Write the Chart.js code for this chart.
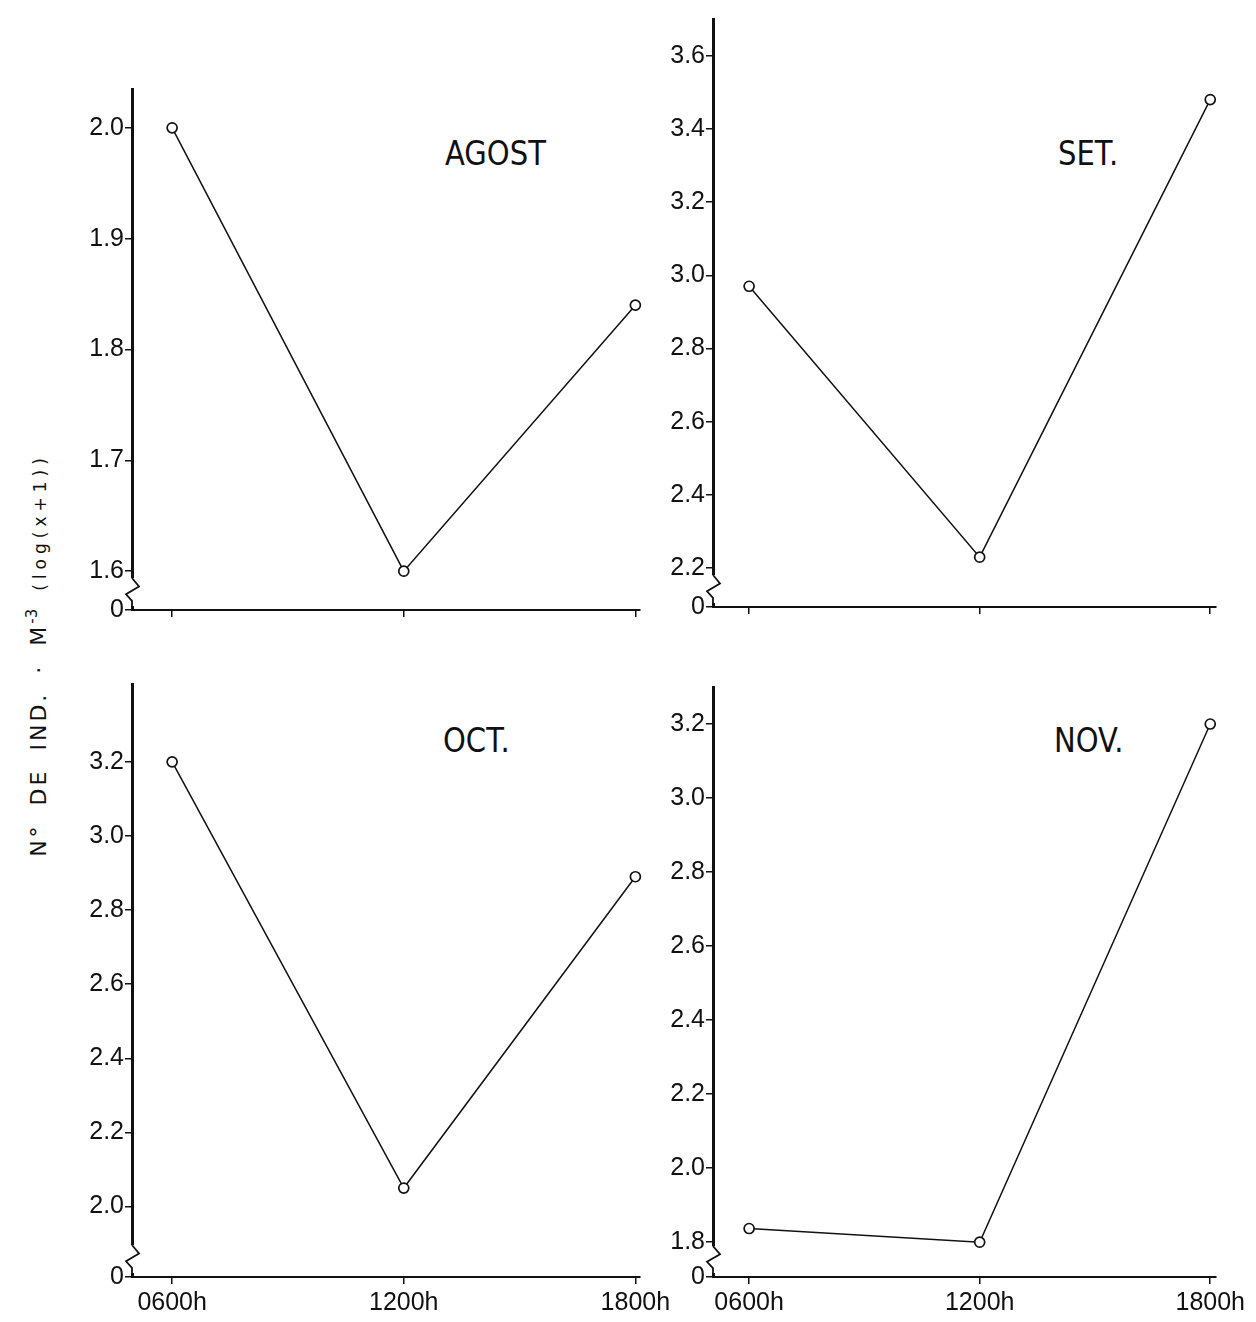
<!DOCTYPE html>
<html>
<head>
<meta charset="utf-8">
<script src="https://cdn.jsdelivr.net/npm/chart.js@4.4.1/dist/chart.umd.min.js"></script>
<style>
    html, body { margin: 0; padding: 0; background: #fff; }
    body { width: 1256px; height: 1322px; position: relative; overflow: hidden; font-family: "DejaVu Sans", sans-serif; color: #111; }
    .panel { position: absolute; }
    .tit { position: absolute; font-size: 33px; color: #111; transform: scaleX(0.88); transform-origin: left top; white-space: nowrap; }
    #ylab { position: absolute; left: 37px; top: 655px; transform: translate(-50%, -50%) rotate(-90deg); white-space: nowrap; font-size: 22px; letter-spacing: 3px; word-spacing: 8px; }
    #ylab sup { font-size: 15px; letter-spacing: 0; }
    #ylab .lg { font-size: 17px; letter-spacing: 5px; word-spacing: 0; }
</style>
</head>
<body>

<div id="ylab">N° DE IND. · M<sup>-3</sup> <span class="lg">(log(x+1))</span></div>

<div class="tit" style="left:445px;top:134px;">AGOST</div>
<div class="tit" style="left:1058px;top:134px;">SET.</div>
<div class="tit" style="left:443px;top:721px;">OCT.</div>
<div class="tit" style="left:1054px;top:721px;">NOV.</div>

<script>
// hora de coleta
var horas = [6, 12, 18];
var horaLabels = {6: '0600h', 12: '1200h', 18: '1800h'};

// log(x+1) por mes
var agost = [2.00, 1.60, 1.84];
var setem = [2.97, 2.23, 3.48];
var octub = [3.20, 2.05, 2.89];
var novem = [1.837, 1.80, 3.20];

// marcas do eixo y
var agostTicks = [1.6, 1.7, 1.8, 1.9, 2.0];
var setemTicks = [2.2, 2.4, 2.6, 2.8, 3.0, 3.2, 3.4, 3.6];
var octubTicks = [2.0, 2.2, 2.4, 2.6, 2.8, 3.0, 3.2];
var novemTicks = [1.8, 2.0, 2.2, 2.4, 2.6, 2.8, 3.0, 3.2];

var PADL = 100, PADT = 12, PADR = 50, PADB = 48;
var FONTE = {family: 'Liberation Sans', size: 25};

// corte do eixo logo acima do zero
var quebraEixo = {
    id: 'quebraEixo',
    afterDraw: function (chart) {
        var y = chart.scales.y, ctx = chart.ctx;
        var first = chart.options.plugins.quebraEixo.first;
        var x0 = y.right;
        var yb = y.getPixelForValue(y.min) - 4;
        var ya = Math.max(y.getPixelForValue(first) + 4, yb - 28);
        var h = yb - ya;
        ctx.save();
        ctx.fillStyle = '#fff';
        ctx.fillRect(x0 - 3, ya, 6, h);
        ctx.strokeStyle = '#111';
        ctx.lineWidth = 1.8;
        ctx.beginPath();
        ctx.moveTo(x0, ya);
        ctx.lineTo(x0 + 7, ya + h * 0.3);
        ctx.lineTo(x0 - 6, ya + h * 0.58);
        ctx.lineTo(x0, ya + h * 0.82);
        ctx.lineTo(x0, yb);
        ctx.stroke();
        ctx.restore();
    }
};

var makePanel = function (box, vals, yMin, yMax, yTicks, showX) {
    var w = box.R - box.L + PADL + PADR;
    var h = box.B - box.T + PADT + PADB;
    var div = document.createElement('div');
    div.className = 'panel';
    div.style.left = (box.L - PADL) + 'px';
    div.style.top = (box.T - PADT) + 'px';
    var cv = document.createElement('canvas');
    cv.width = w; cv.height = h;
    cv.style.width = w + 'px'; cv.style.height = h + 'px';
    div.appendChild(cv);
    document.body.appendChild(div);

    var pts = horas.map(function (hr, i) { return {x: hr, y: vals[i]}; });

    new Chart(cv, {
        type: 'line',
        data: {
            datasets: [{
                data: pts,
                borderColor: '#111',
                borderWidth: 1.5,
                pointRadius: 5,
                pointBorderWidth: 1.7,
                pointBorderColor: '#111',
                pointBackgroundColor: '#fff',
                tension: 0,
                clip: false
            }]
        },
        options: {
            responsive: false,
            animation: false,
            events: [],
            layout: {padding: {left: 0, top: PADT, right: PADR, bottom: 0}},
            plugins: {
                legend: {display: false},
                tooltip: {enabled: false},
                quebraEixo: {first: yTicks[0]}
            },
            scales: {
                x: {
                    type: 'linear',
                    min: box.xmin,
                    max: box.xmax,
                    afterBuildTicks: function (s) { s.ticks = horas.map(function (v) { return {value: v}; }); },
                    afterFit: function (s) { s.height = PADB; },
                    grid: {display: true, drawOnChartArea: false, drawTicks: true, tickLength: 7, color: '#111', lineWidth: 1.5},
                    border: {display: true, color: '#111', width: 2},
                    ticks: {
                        display: showX,
                        padding: 4,
                        maxRotation: 0,
                        color: '#111',
                        font: FONTE,
                        callback: function (v) { return horaLabels[v] || ''; }
                    }
                },
                y: {
                    min: yMin,
                    max: yMax,
                    afterBuildTicks: function (s) {
                        s.ticks = [{value: yMin}].concat(yTicks.map(function (v) { return {value: v}; }));
                    },
                    afterFit: function (s) { s.width = PADL; },
                    grid: {display: true, drawOnChartArea: false, drawTicks: true, tickLength: 7, color: '#111', lineWidth: 1.5},
                    border: {display: true, color: '#111', width: 3},
                    ticks: {
                        padding: 1,
                        color: '#111',
                        font: FONTE,
                        callback: function (v) { return v === yMin ? '0' : v.toFixed(1); }
                    }
                }
            }
        },
        plugins: [quebraEixo]
    });
};

makePanel({L: 132, T: 85, R: 640, B: 610, xmin: 4.96, xmax: 18.12}, agost, 1.565, 2.035, agostTicks, false);
makePanel({L: 713, T: 15, R: 1216, B: 607, xmin: 5.06, xmax: 18.15}, setem, 2.094, 3.70, setemTicks, false);
makePanel({L: 132, T: 680, R: 640, B: 1277, xmin: 4.96, xmax: 18.12}, octub, 1.81, 3.41, octubTicks, true);
makePanel({L: 713, T: 683, R: 1216, B: 1277, xmin: 5.06, xmax: 18.15}, novem, 1.706, 3.30, novemTicks, true);
</script>
</body>
</html>
